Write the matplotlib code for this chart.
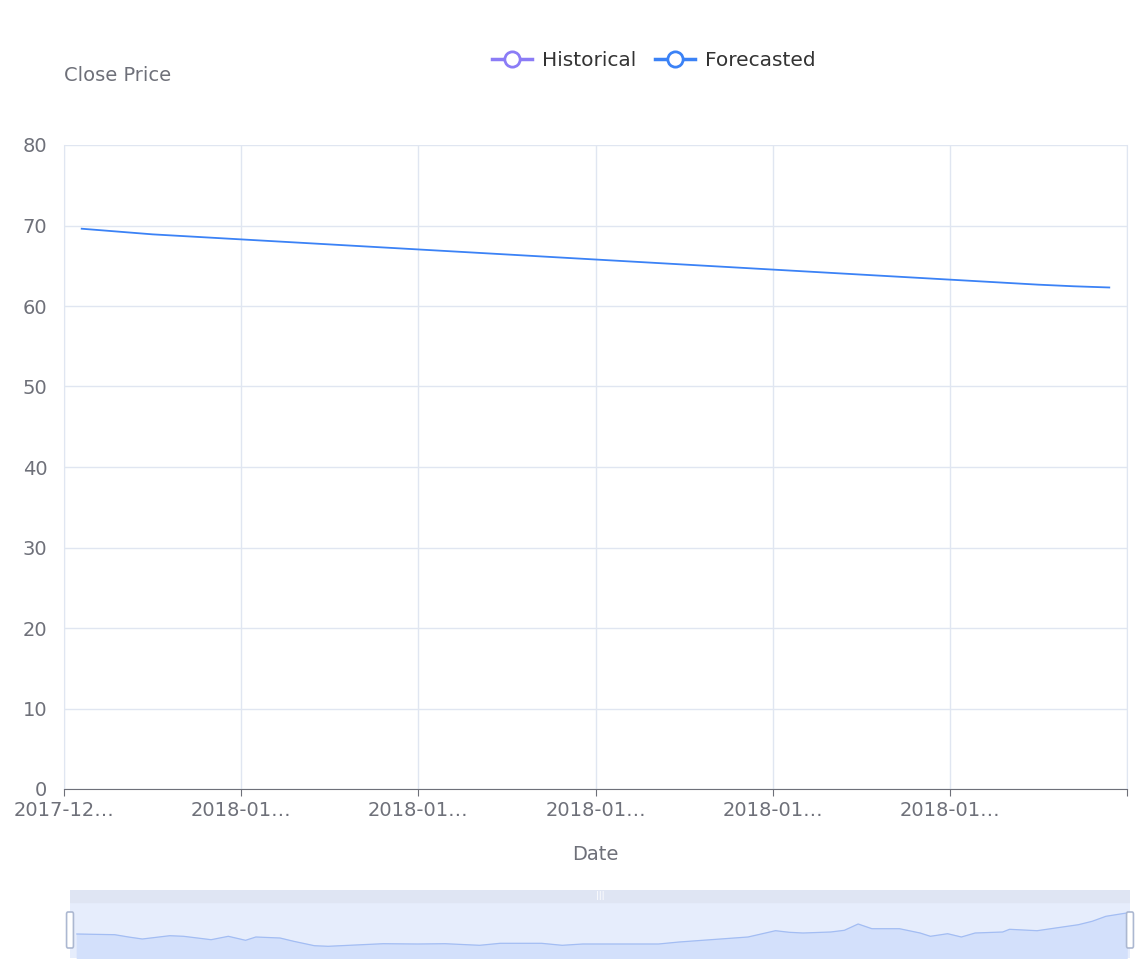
import matplotlib
matplotlib.use("Agg")
import matplotlib.pyplot as plt
from matplotlib.lines import Line2D
from matplotlib.patches import FancyBboxPatch, Rectangle

# ---- data ----
forecast = [69.6, 69.25, 68.9, 68.65, 68.4, 68.15, 67.9, 67.65, 67.4, 67.15,
            66.9, 66.65, 66.4, 66.15, 65.9, 65.65, 65.4, 65.15, 64.9, 64.65,
            64.4, 64.15, 63.9, 63.65, 63.4, 63.15, 62.9, 62.65, 62.45, 62.3]
tick_labels = ["2017-12…", "2018-01…", "2018-01…", "2018-01…", "2018-01…", "2018-01…"]
y_ticks = [0, 10, 20, 30, 40, 50, 60, 70, 80]

# overview (slider) series: position along the full range and relative close level
overview_pos = [25, 80, 100, 120, 160, 180, 220, 245, 270, 285, 320, 340, 370, 390, 430, 470,
                520, 560, 610, 640, 700, 730, 760, 870, 900, 960, 1000, 1040, 1060, 1080, 1120,
                1140, 1160, 1180, 1220, 1250, 1265, 1290, 1310, 1330, 1370, 1380, 1420, 1440,
                1480, 1500, 1520, 1550]
overview_val = [24.0, 23.3, 21.0, 19.0, 22.3, 21.7, 18.3, 21.7, 17.7, 21.0, 20.0, 16.7, 12.3,
                11.7, 13.0, 14.3, 14.0, 14.3, 12.7, 14.7, 14.7, 12.7, 14.0, 14.0, 16.0, 19.0,
                21.0, 27.3, 25.7, 25.0, 26.0, 27.7, 34.0, 29.3, 29.3, 25.0, 21.7, 24.3, 21.0,
                25.0, 26.0, 28.7, 27.3, 29.3, 33.3, 36.7, 41.7, 45.0]

W, H = 1148, 973
fig = plt.figure(figsize=(W / 100, H / 100), dpi=100)
TXT = "#6e7079"
GRID = "#e0e6f1"
BLUE = "#3b82f6"
PURPLE = "#8b7cf6"

def ax_rect(x0, y0, x1, y1):
    return [x0 / W, 1 - y1 / H, (x1 - x0) / W, (y1 - y0) / H]

ax = fig.add_axes(ax_rect(64, 145, 1127, 789))
n = len(forecast)
xs = [i + 0.5 for i in range(n)]
ax.plot(xs, forecast, color=BLUE, lw=1.3)
ax.set_xlim(0, n)
ax.set_ylim(0, 80)
ax.set_yticks(y_ticks)
ax.set_xticks(range(0, n + 1, 5))
ax.set_xticklabels(tick_labels + [""])
ax.tick_params(axis="y", length=0, labelsize=14, colors=TXT, pad=12)
ax.tick_params(axis="x", length=5, color=TXT, labelsize=14, labelcolor=TXT, pad=4)
ax.grid(True, color=GRID, lw=1)
ax.set_axisbelow(True)
ax.spines["top"].set_visible(False)
ax.spines["bottom"].set_color(TXT)
ax.spines["left"].set_color(GRID)
ax.spines["right"].set_color(GRID)

fig.text(64 / W, 1 - 75 / H, "Close Price", color=TXT, fontsize=14, ha="left", va="center")
fig.text(595 / W, 1 - 855 / H, "Date", color=TXT, fontsize=14, ha="center", va="center")

handles = [Line2D([0], [0], color=PURPLE, lw=2.5, marker="o", markersize=11,
                  markerfacecolor="white", markeredgewidth=2),
           Line2D([0], [0], color=BLUE, lw=2.5, marker="o", markersize=11,
                  markerfacecolor="white", markeredgewidth=2)]
fig.legend(handles, ["Historical", "Forecasted"], loc="center", bbox_to_anchor=(654 / W, 1 - 61 / H),
           ncol=2, frameon=False, fontsize=14.5, handlelength=2.0, columnspacing=0.9,
           handletextpad=0.5, labelcolor="#333333")

# slider
sax = fig.add_axes(ax_rect(70, 890, 1130, 958))
sax.set_xlim(15, 1555)
sax.set_ylim(0, 68)
sax.axis("off")
sax.add_patch(Rectangle((15, 0), 1540, 56, color="#e6edfc", zorder=0))
sax.add_patch(Rectangle((15, 56), 1540, 12, color="#dfe5f3", zorder=0))
sax.fill_between(overview_pos, overview_val, 0, color="#d3e0fb", zorder=1)
sax.plot(overview_pos, overview_val, color="#a3bdf3", lw=0.9, zorder=2)
sax.text(785, 62, "|||", color="white", ha="center", va="center", fontsize=6)
for hx in [15, 1555]:
    sax.add_patch(FancyBboxPatch((hx - 5, 10), 10, 36, boxstyle="round,pad=0,rounding_size=2",
                                 fc="white", ec="#acb8d1", lw=1.2, zorder=3, clip_on=False))

fig.savefig("out.png", dpi=100, facecolor="white")
